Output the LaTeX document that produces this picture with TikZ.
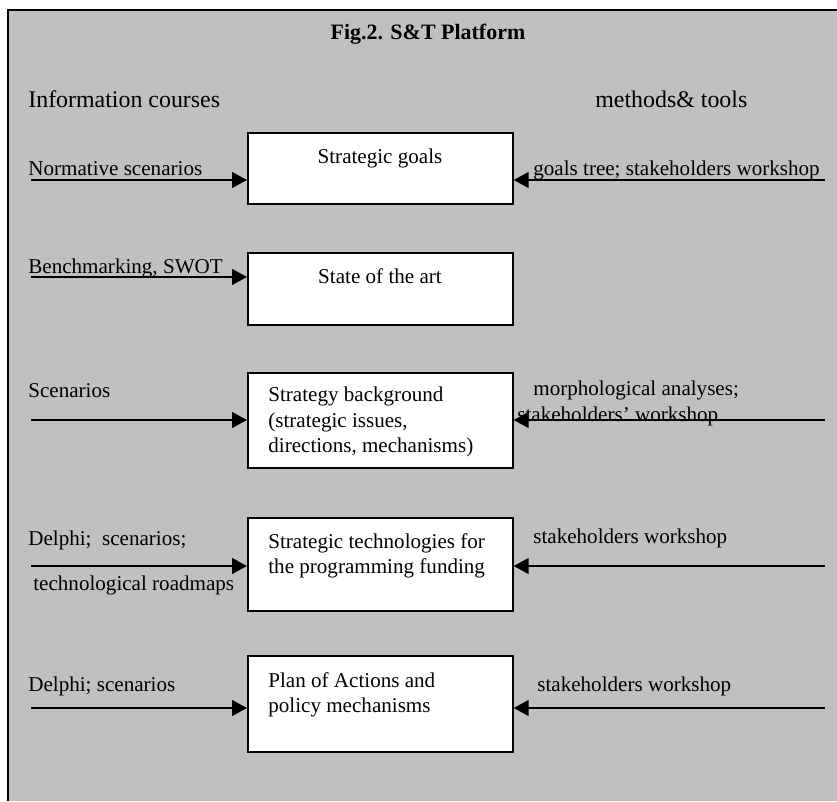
\documentclass[tikz,border=0pt]{standalone}
\usepackage{fontspec}
\setmainfont{Liberation Serif}
\usetikzlibrary{arrows.meta}
\definecolor{panel}{HTML}{C0C0C0}
\begin{document}
\begin{tikzpicture}[x=0.02cm, y=-0.02cm,
        stage/.style={draw, fill=white, line width=1pt, minimum width=5.3cm, anchor=north west, inner sep=0pt},
        lbl/.style={anchor=base west, inner sep=0pt, font=\fontsize{12}{14.5}\selectfont},
        boxtxt/.style={anchor=north west, inner sep=0pt, align=left, font=\fontsize{12}{14.5}\selectfont},
        head/.style={anchor=base west, inner sep=0pt, font=\fontsize{13.6}{16}\selectfont},
        feed/.style={line width=1pt, -{Triangle[length=8.5pt, width=9pt]}}]
        \useasboundingbox (0,0) rectangle (837,801);

        % Panel
        \fill[panel] (8,10) rectangle (837,801);
        \draw[line width=1.1pt] (8,801) -- (8,10) -- (837,10);

        % Nodes
        \node[anchor=base, inner sep=0pt, font=\fontsize{12.5}{14.5}\selectfont\bfseries] at (428, 39)  (title)  {Fig.2. S\&T Platform};
        \node[head] at (28, 107)  (infohead)  {Information courses};
        \node[head] at (595, 107)  (toolhead)  {methods\& tools};

        \node[stage, minimum height=1.42cm] at (247, 132)  (goals)  {};
        \node[stage, minimum height=1.44cm] at (247, 252)  (art)    {};
        \node[stage, minimum height=1.9cm]  at (247, 372)  (back)   {};
        \node[stage, minimum height=1.86cm] at (247, 517)  (tech)   {};
        \node[stage, minimum height=1.92cm] at (247, 655)  (plan)   {};

        \node[lbl, anchor=base] at (380, 163)  (goalstxt)  {Strategic goals};
        \node[lbl, anchor=base] at (380, 283)  (arttxt)    {State of the art};
        \node[boxtxt] at (268, 387)  (backtxt)  {Strategy background\\(strategic issues,\\directions, mechanisms)};
        \node[boxtxt] at (268, 533)  (techtxt)  {Strategic technologies for\\the programming funding};
        \node[boxtxt] at (268, 672)  (plantxt)  {Plan of Actions and\\policy mechanisms};

        \node[lbl] at (28, 175)  (normlbl)   {Normative scenarios};
        \node[lbl] at (28, 273)  (benchlbl)  {Benchmarking, SWOT};
        \node[lbl] at (28, 397)  (scenlbl)   {Scenarios};
        \node[lbl] at (28, 545)  (delphilbl) {Delphi;\ \ scenarios;};
        \node[lbl] at (33, 590)  (roadlbl)   {technological roadmaps};
        \node[lbl] at (28, 691)  (actlbl)    {Delphi; scenarios};

        \node[lbl] at (533, 175)  (treelbl)   {goals tree; stakeholders workshop};
        \node[lbl] at (533, 395)  (morphlbl)  {morphological analyses;};
        \node[lbl] at (517, 421)  (shoplbl)   {stakeholders’ workshop};
        \node[lbl] at (533, 543)  (techshop)  {stakeholders workshop};
        \node[lbl] at (537, 691)  (planshop)  {stakeholders workshop};

        % Free ends
        \coordinate (goalsin)  at (31, 180);
        \coordinate (goalsout) at (825, 180);
        \coordinate (artin)    at (31, 277);
        \coordinate (backin)   at (31, 420);
        \coordinate (backout)  at (825, 420);
        \coordinate (techin)   at (31, 566);
        \coordinate (techout)  at (825, 566);
        \coordinate (planin)   at (31, 708);
        \coordinate (planout)  at (825, 708);

        \draw[feed]  (goalsin) -- (goalsin -| goals.west);
        \draw[feed]  (goalsout) -- (goalsout -| goals.east);

        \draw[feed]  (artin) -- (artin -| art.west);

        \draw[feed]  (backin) -- (backin -| back.west);
        \draw[feed]  (backout) -- (backout -| back.east);

        \draw[feed]  (techin) -- (techin -| tech.west);
        \draw[feed]  (techout) -- (techout -| tech.east);

        \draw[feed]  (planin) -- (planin -| plan.west);
        \draw[feed]  (planout) -- (planout -| plan.east);
    \end{tikzpicture}
\end{document}
